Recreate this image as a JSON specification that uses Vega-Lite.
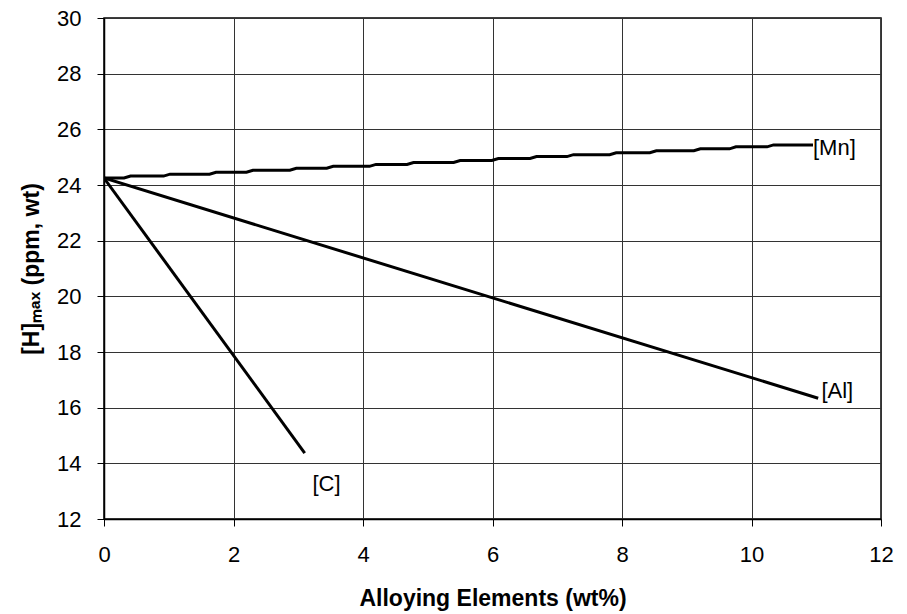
{
  "$schema": "https://vega.github.io/schema/vega-lite/v6.json",
  "autosize": {"type": "none"},
  "width": 777,
  "height": 501,
  "padding": {"left": 104, "top": 18, "right": 26, "bottom": 95},
  "background": "white",
  "config": {
    "font": "Liberation Sans",
    "view": {"stroke": "black", "strokeWidth": 1.5},
    "axis": {
      "labelFont": "Liberation Sans",
      "titleFont": "Liberation Sans",
      "labelFontSize": 22,
      "labelColor": "black",
      "titleColor": "black",
      "titleFontSize": 23,
      "titleFontWeight": "bold",
      "domainColor": "black",
      "domainWidth": 1.5,
      "tickColor": "black",
      "tickSize": 7,
      "gridColor": "#333333",
      "gridWidth": 1,
      "gridOpacity": 1,
      "labelFlush": false
    }
  },
  "datasets": {
    "lines": [
      {"series": "Mn", "x": 0, "y": 24.25},
      {"series": "Mn", "x": 0.31, "y": 24.25},
      {"series": "Mn", "x": 0.41, "y": 24.32},
      {"series": "Mn", "x": 0.92, "y": 24.32},
      {"series": "Mn", "x": 1.02, "y": 24.39},
      {"series": "Mn", "x": 1.63, "y": 24.39},
      {"series": "Mn", "x": 1.73, "y": 24.46},
      {"series": "Mn", "x": 2.2, "y": 24.46},
      {"series": "Mn", "x": 2.3, "y": 24.53},
      {"series": "Mn", "x": 2.87, "y": 24.53},
      {"series": "Mn", "x": 2.97, "y": 24.6},
      {"series": "Mn", "x": 3.44, "y": 24.6},
      {"series": "Mn", "x": 3.54, "y": 24.67},
      {"series": "Mn", "x": 4.1, "y": 24.67},
      {"series": "Mn", "x": 4.2, "y": 24.74},
      {"series": "Mn", "x": 4.68, "y": 24.74},
      {"series": "Mn", "x": 4.78, "y": 24.81},
      {"series": "Mn", "x": 5.4, "y": 24.81},
      {"series": "Mn", "x": 5.5, "y": 24.88},
      {"series": "Mn", "x": 5.99, "y": 24.88},
      {"series": "Mn", "x": 6.09, "y": 24.95},
      {"series": "Mn", "x": 6.58, "y": 24.95},
      {"series": "Mn", "x": 6.68, "y": 25.02},
      {"series": "Mn", "x": 7.15, "y": 25.02},
      {"series": "Mn", "x": 7.25, "y": 25.09},
      {"series": "Mn", "x": 7.81, "y": 25.09},
      {"series": "Mn", "x": 7.91, "y": 25.16},
      {"series": "Mn", "x": 8.43, "y": 25.16},
      {"series": "Mn", "x": 8.53, "y": 25.23},
      {"series": "Mn", "x": 9.11, "y": 25.23},
      {"series": "Mn", "x": 9.21, "y": 25.3},
      {"series": "Mn", "x": 9.66, "y": 25.3},
      {"series": "Mn", "x": 9.76, "y": 25.37},
      {"series": "Mn", "x": 10.24, "y": 25.37},
      {"series": "Mn", "x": 10.34, "y": 25.44},
      {"series": "Mn", "x": 10.95, "y": 25.44},
      {"series": "Al", "x": 0, "y": 24.25},
      {"series": "Al", "x": 11.03, "y": 16.34},
      {"series": "C", "x": 0, "y": 24.25},
      {"series": "C", "x": 3.1, "y": 14.37}
    ],
    "labels": [
      {"x": 10.95, "y": 25.32, "label": "[Mn]"},
      {"x": 11.08, "y": 16.6, "label": "[Al]"},
      {"x": 3.22, "y": 13.25, "label": "[C]"}
    ]
  },
  "layer": [
    {
      "data": {"name": "lines"},
      "mark": {"type": "line", "color": "black", "strokeWidth": 3, "clip": true},
      "encoding": {
        "x": {
          "field": "x",
          "type": "quantitative",
          "scale": {"domain": [0, 12], "nice": false},
          "axis": {
            "values": [0, 2, 4, 6, 8, 10, 12],
            "format": "d",
            "title": "Alloying Elements (wt%)",
            "labelPadding": 18,
            "titlePadding": 22
          }
        },
        "y": {
          "field": "y",
          "type": "quantitative",
          "scale": {"domain": [12, 30], "nice": false, "zero": false},
          "axis": {
            "values": [12, 14, 16, 18, 20, 22, 24, 26, 28, 30],
            "format": "d",
            "title": "[H]ₘₐₓ (ppm, wt)",
            "labelPadding": 16,
            "titlePadding": 13
          }
        },
        "detail": {"field": "series"},
        "order": {"field": "x", "type": "quantitative"}
      }
    },
    {
      "data": {"name": "labels"},
      "mark": {"type": "text", "align": "left", "baseline": "middle", "fontSize": 22, "font": "Liberation Sans", "color": "black"},
      "encoding": {
        "x": {"field": "x", "type": "quantitative"},
        "y": {"field": "y", "type": "quantitative"},
        "text": {"field": "label"}
      }
    }
  ]
}
